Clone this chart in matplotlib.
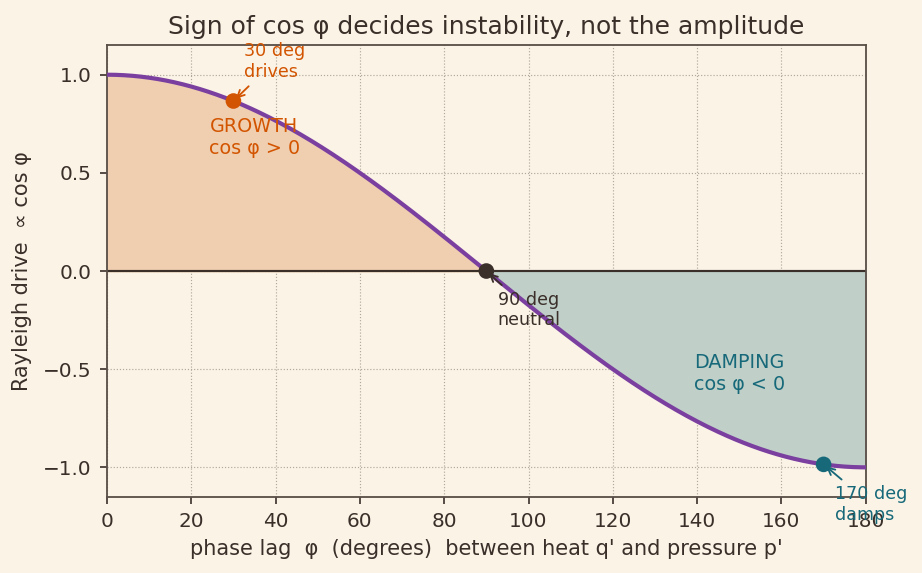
import numpy as np
import matplotlib.pyplot as plt

# phase lag samples for the curve (degrees)
phi_deg = np.linspace(0, 180, 361)
drive = np.cos(np.radians(phi_deg))

# marked points
mark_phi = [30, 90, 170]
mark_labels = ["30 deg\ndrives", "90 deg\nneutral", "170 deg\ndamps"]
mark_colors = ["#d35400", "#3b2f2a", "#17697a"]

bg = "#faf3e6"
dark = "#3b2f2a"

fig = plt.figure(figsize=(922 / 120, 573 / 120), dpi=120, facecolor=bg)
ax = fig.add_axes([0.116, 0.133, 0.823, 0.788])
ax.set_facecolor(bg)

ax.fill_between(phi_deg, drive, 0, where=drive >= 0, color="#efcfb0", interpolate=True, zorder=1)
ax.fill_between(phi_deg, drive, 0, where=drive <= 0, color="#c0d0c8", interpolate=True, zorder=1)
ax.axhline(0, color=dark, lw=1.3, zorder=2)
ax.plot(phi_deg, drive, color="#7b3fa0", lw=2.5, zorder=3)

mark_y = np.cos(np.radians(mark_phi))
ax.scatter(mark_phi, mark_y, s=70, c=mark_colors, zorder=5)

# annotations
ax.annotate(mark_labels[0], xy=(mark_phi[0], mark_y[0]), xytext=(32.5, 0.97),
            ha="left", va="bottom", fontsize=10.5, color=mark_colors[0],
            arrowprops=dict(arrowstyle="->", color=mark_colors[0], lw=1.1), zorder=6)
ax.annotate(mark_labels[1], xy=(mark_phi[1], mark_y[1]), xytext=(92.7, -0.1),
            ha="left", va="top", fontsize=10.5, color=mark_colors[1],
            arrowprops=dict(arrowstyle="->", color=mark_colors[1], lw=1.1), zorder=6)
ax.annotate(mark_labels[2], xy=(mark_phi[2], mark_y[2]), xytext=(172.7, -1.09),
            ha="left", va="top", fontsize=10.5, color=mark_colors[2],
            arrowprops=dict(arrowstyle="->", color=mark_colors[2], lw=1.1),
            annotation_clip=False, zorder=6)

ax.text(35, 0.68, "GROWTH\ncos φ > 0", ha="center", va="center", fontsize=11.5,
        color=mark_colors[0], zorder=6)
ax.text(150, -0.52, "DAMPING\ncos φ < 0", ha="center", va="center", fontsize=11.5,
        color=mark_colors[2], zorder=6)

ax.set_xlim(0, 180)
ax.set_ylim(-1.15, 1.15)
ax.set_xticks(np.arange(0, 181, 20))
ax.set_yticks([-1.0, -0.5, 0.0, 0.5, 1.0])
ax.grid(True, ls=":", color="#b0a89c", lw=0.7, zorder=0)
ax.set_axisbelow(True)

for s in ax.spines.values():
    s.set_color("#5a5048")
    s.set_linewidth(1.1)
ax.tick_params(colors=dark, labelsize=12, length=4, width=1.0, pad=5)

ax.set_xlabel("phase lag  φ  (degrees)  between heat q' and pressure p'", fontsize=12.5,
              color=dark, labelpad=5)
ax.set_ylabel("Rayleigh drive  ∝ cos φ", fontsize=12.5, color=dark, labelpad=7)
ax.set_title("Sign of cos φ decides instability, not the amplitude", fontsize=15, color=dark, pad=7)

fig.savefig("out.png", dpi=120, facecolor=bg)
